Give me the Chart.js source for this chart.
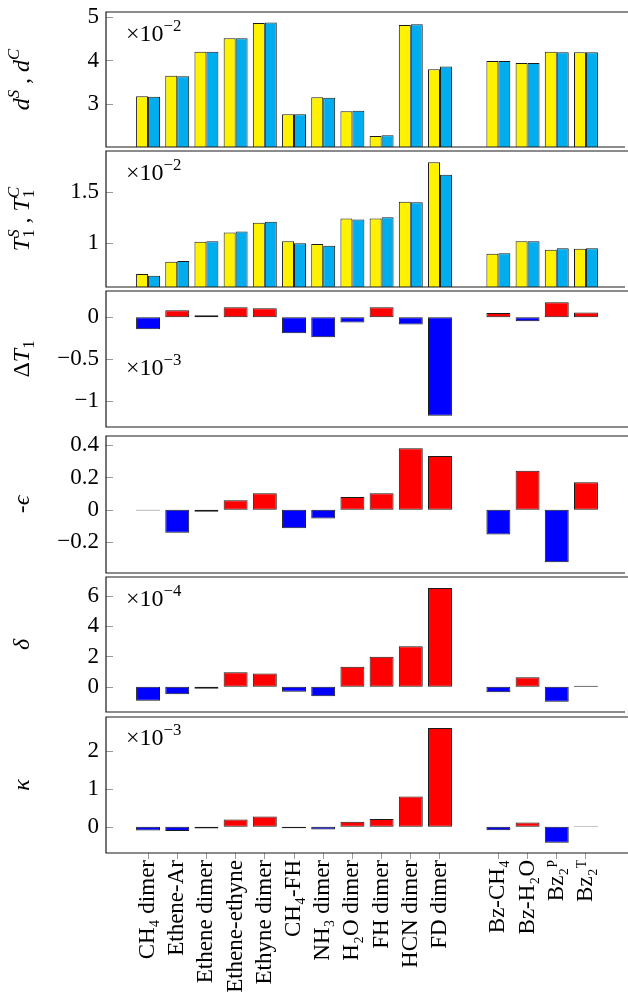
<!DOCTYPE html>
<html>
<head>
<meta charset="utf-8">
<script src="https://cdn.jsdelivr.net/npm/chart.js@4.4.1/dist/chart.umd.min.js"></script>
<style>
  html, body { margin: 0; padding: 0; background: #fff; overflow: hidden; }
  #wrap { position: relative; width: 628px; height: 1007px; overflow: hidden; background: #fff; }
  #wrap canvas { position: absolute; left: 0; }
</style>
</head>
<body>
<div id="wrap"></div>
<script>
// categories along x (slot 11 is left empty)
const categories = ["CH₄ dimer", "Ethene-Ar", "Ethene dimer", "Ethene-ethyne", "Ethyne dimer",
  "CH₄-FH", "NH₃ dimer", "H₂O dimer", "FH dimer", "HCN dimer", "FD dimer",
  "Bz-CH₄", "Bz-H₂O", "Bz₂ᴾ", "Bz₂ᵀ"];
const xPos = [0, 1, 2, 3, 4, 5, 6, 7, 8, 9, 10, 12, 13, 14, 15];

// values as shown on the axes (x10^-2, x10^-2, x10^-3, 1, x10^-4, x10^-3)
const dS  = [3.18, 3.65, 4.20, 4.51, 4.86, 2.77, 3.16, 2.84, 2.27, 4.81, 3.80, 3.99, 3.94, 4.20, 4.19];
const dC  = [3.17, 3.64, 4.20, 4.51, 4.87, 2.77, 3.15, 2.85, 2.29, 4.83, 3.86, 3.99, 3.94, 4.19, 4.19];
const t1S = [0.698, 0.818, 1.013, 1.103, 1.200, 1.019, 0.993, 1.240, 1.240, 1.405, 1.789, 0.896, 1.019, 0.935, 0.945];
const t1C = [0.682, 0.825, 1.019, 1.113, 1.210, 1.000, 0.974, 1.230, 1.253, 1.399, 1.668, 0.902, 1.019, 0.951, 0.951];
const dT1 = [-0.143, 0.083, 0.024, 0.119, 0.107, -0.190, -0.238, -0.064, 0.119, -0.088, -1.175, 0.051, -0.048, 0.179, 0.055];
const negEps = [-0.004, -0.142, -0.012, 0.060, 0.103, -0.113, -0.053, 0.080, 0.103, 0.381, 0.332, -0.152, 0.241, -0.323, 0.171];
const delta = [-0.92, -0.50, -0.13, 0.95, 0.88, -0.33, -0.63, 1.32, 1.98, 2.68, 6.53, -0.37, 0.62, -0.99, 0.07];
const kappa = [-0.10, -0.115, -0.05, 0.19, 0.27, -0.04, -0.07, 0.13, 0.20, 0.79, 2.59, -0.09, 0.11, -0.42, 0.01];

// tick values per panel
const ticksD = [3, 4, 5];
const ticksT = [1, 1.5];
const ticksDT = [-1, -0.5, 0];
const ticksEps = [-0.2, 0, 0.2, 0.4];
const ticksDelta = [0, 2, 4, 6];
const ticksKappa = [0, 1, 2];

const SERIF = '"Liberation Serif", "DejaVu Serif", serif';
const YELLOW = "#fff200", CYAN = "#00aeef", RED = "#ff0000", BLUE = "#0000ff";

function fontOf(size, it){ return (it ? "italic " : "") + size + "px " + SERIF; }

function layoutRich(ctx, segs, size){
  let x = 0;
  const out = [];
  segs.forEach(g => {
    if(g.stack){
      const fs = size * 0.7;
      const f0 = fontOf(fs, g.stack[0].i), f1 = fontOf(fs, g.stack[1].i);
      ctx.font = f0; const w0 = ctx.measureText(g.stack[0].t).width;
      ctx.font = f1; const w1 = ctx.measureText(g.stack[1].t).width;
      out.push({ t: g.stack[0].t, x, dy: size * 0.22, font: f0 });
      out.push({ t: g.stack[1].t, x, dy: -size * 0.42, font: f1 });
      x += Math.max(w0, w1);
    } else {
      const fs = g.s ? size * 0.7 : size;
      const f = fontOf(fs, g.i);
      ctx.font = f;
      const dy = g.s === "sup" ? -size * 0.42 : (g.s === "sub" ? size * 0.22 : 0);
      out.push({ t: g.t, x, dy, font: f });
      x += ctx.measureText(g.t).width;
    }
  });
  return { pieces: out, width: x };
}

function drawRich(ctx, segs, size, x, y, opts){
  const o = opts || {};
  ctx.save();
  ctx.fillStyle = "#000";
  ctx.textBaseline = "alphabetic";
  ctx.textAlign = "left";
  const L = layoutRich(ctx, segs, size);
  ctx.translate(x, y);
  if(o.rotate) ctx.rotate(-Math.PI / 2);
  const x0 = o.center ? -L.width / 2 : 0;
  L.pieces.forEach(p => {
    ctx.font = p.font;
    ctx.fillText(p.t, x0 + p.x, p.dy);
  });
  ctx.restore();
}

const panelDeco = {
  id: "panelDeco",
  afterDraw(chart, args, opts){
    const ctx = chart.ctx;
    const a = chart.chartArea;
    const y = chart.scales.y;
    ctx.save();
    // keep the right edge clean: the frame continues past the picture
    ctx.fillStyle = "#fff";
    ctx.fillRect(chart.width - 3, 0, 3, chart.height);
    // inner y tick marks
    ctx.strokeStyle = "#9a9a9a";
    ctx.lineWidth = 1;
    y.ticks.forEach(t => {
      const py = Math.round(y.getPixelForValue(t.value)) + 0.5;
      ctx.beginPath();
      ctx.moveTo(a.left, py);
      ctx.lineTo(a.left + 7, py);
      ctx.stroke();
    });
    // frame: top, left, bottom
    ctx.strokeStyle = "#1a1a1a";
    ctx.lineWidth = 1.2;
    ctx.beginPath();
    ctx.moveTo(chart.width + 5, a.top);
    ctx.lineTo(a.left, a.top);
    ctx.lineTo(a.left, a.bottom);
    ctx.lineTo(chart.width + 5, a.bottom);
    ctx.stroke();
    ctx.restore();
    // axis title
    const midY = (a.top + a.bottom) / 2;
    drawRich(ctx, opts.title, 24, 29, midY, { rotate: true, center: true });
    // scale note
    if(opts.expo){
      drawRich(ctx, [{ t: "×10" }, { t: "−" + opts.expo, s: "sup" }], 24, a.left + 20, a.top + opts.expoY);
    }
  }
};

const panels = [
  { top: 12, bottom: 147, min: 2.02, max: 5.11, ticks: ticksD, series: [[dS, YELLOW], [dC, CYAN]],
    title: [{ t: "d", i: 1 }, { t: "S", i: 1, s: "sup" }, { t: " , " }, { t: "d", i: 1 }, { t: "C", i: 1, s: "sup" }],
    expo: "2", expoY: 29 },
  { top: 151, bottom: 287, min: 0.572, max: 1.9, ticks: ticksT, series: [[t1S, YELLOW], [t1C, CYAN]],
    title: [{ t: "T", i: 1 }, { stack: [{ t: "1" }, { t: "S", i: 1 }] }, { t: " , " }, { t: "T", i: 1 }, { stack: [{ t: "1" }, { t: "C", i: 1 }] }],
    expo: "2", expoY: 29 },
  { top: 291, bottom: 427, min: -1.31, max: 0.313, ticks: ticksDT, series: [[dT1, null]],
    title: [{ t: "Δ" }, { t: "T", i: 1 }, { t: "1", s: "sub" }],
    expo: "3", expoY: 84 },
  { top: 436, bottom: 573, min: -0.39, max: 0.456, ticks: ticksEps, series: [[negEps, null]],
    title: [{ t: "-" }, { t: "ϵ", i: 1 }] },
  { top: 577, bottom: 712, min: -1.67, max: 7.25, ticks: ticksDelta, series: [[delta, null]],
    title: [{ t: "δ", i: 1 }],
    expo: "4", expoY: 29 },
  { top: 717, bottom: 853, min: -0.69, max: 2.88, ticks: ticksKappa, series: [[kappa, null]],
    title: [{ t: "κ", i: 1 }],
    expo: "3", expoY: 28, last: true }
];

function fmt(v){
  return (v < 0 ? "−" : "") + String(Math.abs(v));
}

function noPad(s){
  s.paddingTop = 0; s.paddingBottom = 0; s.paddingLeft = 0; s.paddingRight = 0;
}

function makePanel(p){
  const wrap = document.getElementById("wrap");
  const cv = document.createElement("canvas");
  const padT = 6, padB = p.last ? 0 : 6;
  const top = p.top - padT;
  const h = p.last ? 1007 - top : (p.bottom - p.top) + padT + padB;
  cv.width = 628;
  cv.height = h;
  cv.style.width = "628px";
  cv.style.height = h + "px";
  cv.style.top = top + "px";
  wrap.appendChild(cv);

  const datasets = p.series.map(([vals, color]) => ({
    data: xPos.map((x, i) => ({ x, y: vals[i] })),
    backgroundColor: color ? color : (c => (c.raw && c.raw.y < 0 ? BLUE : RED)),
    borderColor: "#1a1a1a",
    borderWidth: 1,
    borderSkipped: false,
    categoryPercentage: 0.82,
    barPercentage: 1
  }));

  return new Chart(cv, {
    type: "bar",
    data: { datasets },
    plugins: [panelDeco],
    options: {
      responsive: false,
      animation: false,
      devicePixelRatio: 1,
      layout: { padding: { top: padT, bottom: padB, left: 0, right: 0 } },
      plugins: {
        legend: { display: false },
        tooltip: { enabled: false },
        panelDeco: { title: p.title, expo: p.expo, expoY: p.expoY }
      },
      scales: {
        x: {
          type: "linear",
          offset: false,
          min: -1.44,
          max: 16.44,
          display: !!p.last,
          afterBuildTicks: s => { s.ticks = xPos.map(v => ({ value: v })); },
          afterFit: s => { noPad(s); if(p.last) s.height = 1007 - p.bottom; },
          grid: { display: true, offset: false, drawOnChartArea: false, drawTicks: true, tickLength: 6, color: "#9a9a9a" },
          border: { display: false },
          ticks: {
            autoSkip: false, minRotation: 90, maxRotation: 90, padding: 1,
            color: "#000", font: { family: SERIF, size: 23 },
            callback: v => { const k = xPos.indexOf(v); return k >= 0 ? categories[k] : ""; }
          }
        },
        y: {
          min: p.min,
          max: p.max,
          afterBuildTicks: s => { s.ticks = p.ticks.map(v => ({ value: v })); },
          afterFit: s => { noPad(s); s.width = 106; },
          grid: { display: false, drawTicks: false },
          border: { display: false },
          ticks: { padding: 7, color: "#000", font: { family: SERIF, size: 23 }, callback: v => fmt(v) }
        }
      }
    }
  });
}

panels.forEach(makePanel);
</script>
</body>
</html>
